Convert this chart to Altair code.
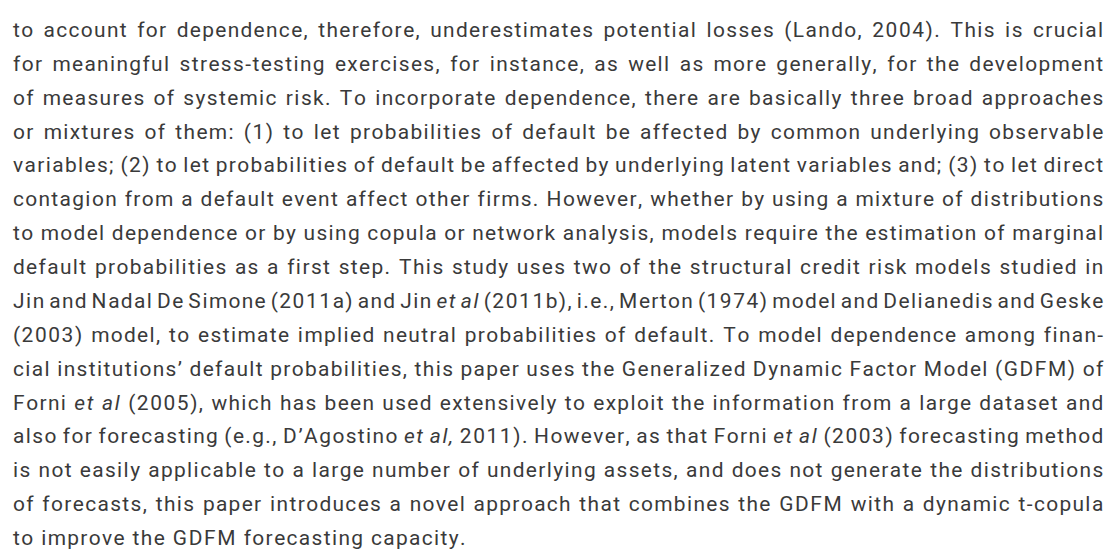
import altair as alt
import pandas as pd

# ---- text content (words wrapped in _..._ are set in italics) ----
lines = [
    "to account for dependence, therefore, underestimates potential losses (Lando, 2004). This is crucial",
    "for meaningful stress-testing exercises, for instance, as well as more generally, for the development",
    "of measures of systemic risk. To incorporate dependence, there are basically three broad approaches",
    "or mixtures of them: (1) to let probabilities of default be affected by common underlying observable",
    "variables; (2) to let probabilities of default be affected by underlying latent variables and; (3) to let direct",
    "contagion from a default event affect other firms. However, whether by using a mixture of distributions",
    "to model dependence or by using copula or network analysis, models require the estimation of marginal",
    "default probabilities as a first step. This study uses two of the structural credit risk models studied in",
    "Jin and Nadal De Simone (2011a) and Jin _et_ _al_ (2011b), i.e., Merton (1974) model and Delianedis and Geske",
    "(2003) model, to estimate implied neutral probabilities of default. To model dependence among finan-",
    "cial institutions\u2019 default probabilities, this paper uses the Generalized Dynamic Factor Model (GDFM) of",
    "Forni _et_ _al_ (2005), which has been used extensively to exploit the information from a large dataset and",
    "also for forecasting (e.g., D\u2019Agostino _et_ _al,_ 2011). However, as that Forni _et_ _al_ (2003) forecasting method",
    "is not easily applicable to a large number of underlying assets, and does not generate the distributions",
    "of forecasts, this paper introduces a novel approach that combines the GDFM with a dynamic t-copula",
    "to improve the GDFM forecasting capacity.",
]
justified = [True] * 15 + [False]

# ---- style ----
FONT = "Roboto"
FONT_SIZE = 21
TRACK = 1.6          # extra letter spacing, px
COLOR = "#3a3a3a"
W, H = 1100, 542
LEFT, RIGHT = 5, 1099
BASE0, LEADING = 28, 34

# approximate Roboto advance widths (units per em = 2048)
ADV = dict(a=1088, b=1120, c=1044, d=1126, e=1058, f=694, g=1120, h=1102, i=485, j=477,
           k=1012, l=485, m=1753, n=1102, o=1141, p=1120, q=1135, r=678, s=1032, t=653,
           u=1102, v=967, w=1502, x=990, y=945, z=990,
           A=1336, B=1275, C=1333, D=1343, E=1164, F=1132, G=1395, H=1460, I=557, J=1130,
           K=1284, L=1102, M=1788, N=1460, O=1408, P=1292, Q=1408, R=1260, S=1218, T=1221,
           U=1329, V=1302, W=1817, X=1284, Y=1230, Z=1226)
ADV.update({d: 1150 for d in "0123456789"})
ADV.update({" ": 498, ",": 393, ".": 527, "(": 684, ")": 696, ":": 484, ";": 434,
            "-": 553, "\u2019": 400, "'": 350})


def adv(ch):
    return ADV.get(ch, 1100) * FONT_SIZE / 2048.0


def word_width(word):
    return sum(adv(c) for c in word) + TRACK * (len(word) - 1)


rows = []
for li, (line, just) in enumerate(zip(lines, justified)):
    words = []
    for tok in line.split(" "):
        ital = tok.startswith("_") and tok.endswith("_") and len(tok) > 2
        words.append((tok.strip("_") if ital else tok, ital))
    widths = [word_width(w) for w, _ in words]
    n = len(words)
    if just and n > 1:
        gap = (RIGHT - LEFT - sum(widths)) / (n - 1)
    else:
        gap = adv(" ") + 2 * TRACK
    cur = LEFT
    for (w, ital), wd in zip(words, widths):
        cx = cur
        for ch in w:
            rows.append(dict(line=li, ch=ch, x=cx, style="italic" if ital else "normal"))
            cx += adv(ch) + TRACK
        cur += wd + gap

df = pd.DataFrame(rows)

base = alt.Chart(df).encode(
    x=alt.X("x:Q", scale=alt.Scale(domain=[0, W], range=[0, W], nice=False, zero=False), axis=None),
    y=alt.Y("line:Q", scale=alt.Scale(domain=[0, 15], range=[BASE0, BASE0 + 15 * LEADING],
                                      nice=False, zero=False), axis=None),
    text="ch:N",
)

layers = []
for style in ["normal", "italic"]:
    layers.append(
        base.transform_filter(alt.datum.style == style).mark_text(
            align="left", baseline="alphabetic", font=FONT,
            fontSize=FONT_SIZE, fontStyle=style, color=COLOR)
    )

chart = alt.layer(*layers).properties(
    width=W, height=H, padding=0, autosize=alt.AutoSizeParams(type="none"),
    background="white",
).configure_view(stroke=None)

chart.save("out.html", embed_options={"renderer": "svg", "actions": False})
